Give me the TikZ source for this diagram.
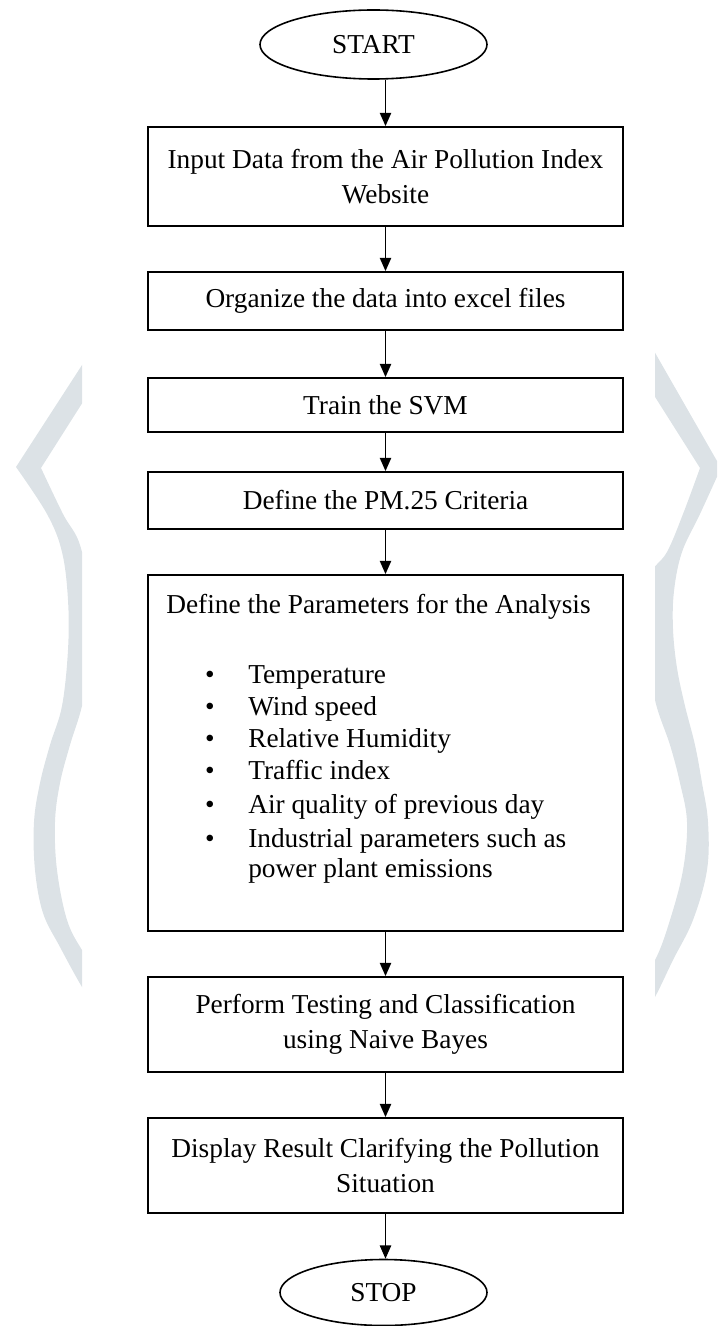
\documentclass[tikz,border=0pt]{standalone}
\usepackage{fontspec}
\setmainfont{Liberation Serif}
\usetikzlibrary{shapes.geometric,arrows.meta}
\definecolor{wmgray}{RGB}{220,226,230}
\begin{document}
\begin{tikzpicture}[x=0.75pt,y=-0.75pt,
  every node/.style={font=\fontsize{20.5pt}{26.25pt}\selectfont},
  procbox/.style={draw=black, line width=1.35pt, rectangle, minimum width=356.25pt, inner sep=0pt, align=center},
  term/.style={draw=black, line width=1.2pt, ellipse, inner sep=0pt},
  arr/.style={draw=black, line width=1.15pt, -{Triangle[length=10pt,width=8.5pt]}},
  wm/.style={fill=wmgray},
  itemtext/.style={anchor=base west, inner sep=0pt},
  bullet/.style={anchor=base, inner sep=0pt}]
\useasboundingbox (0,0) rectangle (717,1326);
% watermark, left
\begin{scope}
\clip (0,0) rectangle (82,1326);
\fill[wm] (95,345) -- (16,467)
  -- plot[smooth, tension=0.6] coordinates {(16,467) (47,514) (62,552) (68,600) (68,650) (62,706) (50,745) (40,783) (34,822) (35,870) (43,913) (60,947) (82,987) (95,1005)}
  -- plot[smooth, tension=0.6] coordinates {(100,975) (82,950) (67,920) (57,870) (55,822) (60,783) (70,745) (82,706) (90,660) (90,600) (80,545) (63,514) (41,468)}
  -- (95,383) -- cycle;
\end{scope}
% watermark, right
\begin{scope}
\clip (655,0) rectangle (717,1326);
\fill[wm] (642,330) -- (721,468)
  -- plot[smooth, tension=0.6] coordinates {(721,468) (700,514) (682,552) (674,591) (673,629) (677,668) (685,706) (695,745) (702,783) (708,822) (707,870) (693,920) (673,960) (655,997) (640,1020)}
  -- plot[smooth, tension=0.6] coordinates {(635,985) (655,960) (670,920) (683,870) (687,822) (680,783) (670,745) (655,700) (646,640) (648,580) (667,552) (683,514) (700,468)}
  -- (638,370) -- cycle;
\end{scope}
% flowchart
\node[term, minimum width=170.25pt, minimum height=51.75pt] (start) at (373.5,44.5) {START};
\node[procbox, minimum height=74.25pt] (b1) at (385.5,176.5) {Input Data from the Air Pollution Index\\Website};
\node[procbox, minimum height=43.5pt] (b2) at (385.5,301) {Organize the data into excel files};
\node[procbox, minimum height=40.5pt] (b3) at (385.5,405) {Train the SVM};
\node[procbox, minimum height=42.75pt] (b4) at (385.5,500.5) {Define the PM.25 Criteria};
\node[procbox, minimum height=267pt] (b5) at (385.5,753) {};
\node[anchor=base, inner sep=0pt] (b5t) at (378.5,613) {Define the Parameters for the Analysis};
\foreach \t/\y [count=\i] in {Temperature/683, Wind speed/715, Relative Humidity/747, Traffic index/779, Air quality of previous day/813, Industrial parameters such as/847} {
  \node[bullet] (bu\i) at (210,\y) {•};
  \node[itemtext] (it\i) at (248,\y) {\t};
}
\node[itemtext] (it7) at (248,877) {power plant emissions};
\node[procbox, minimum height=71.25pt] (b6) at (385.5,1024.5) {Perform Testing and Classification\\using Naive Bayes};
\node[procbox, minimum height=71.25pt] (b7) at (385.5,1165.5) {Display Result Clarifying the Pollution\\Situation};
\node[term, minimum width=155.25pt, minimum height=49.5pt] (stop) at (383.5,1292.5) {STOP};
% connectors
\draw[arr] (start.south -| b1.north) -- (b1.north);
\draw[arr] (b1.south) -- (b2.north);
\draw[arr] (b2.south) -- (b3.north);
\draw[arr] (b3.south) -- (b4.north);
\draw[arr] (b4.south) -- (b5.north);
\draw[arr] (b5.south) -- (b6.north);
\draw[arr] (b6.south) -- (b7.north);
\draw[arr] (b7.south) -- (b7.south |- stop.north);
\end{tikzpicture}
\end{document}
